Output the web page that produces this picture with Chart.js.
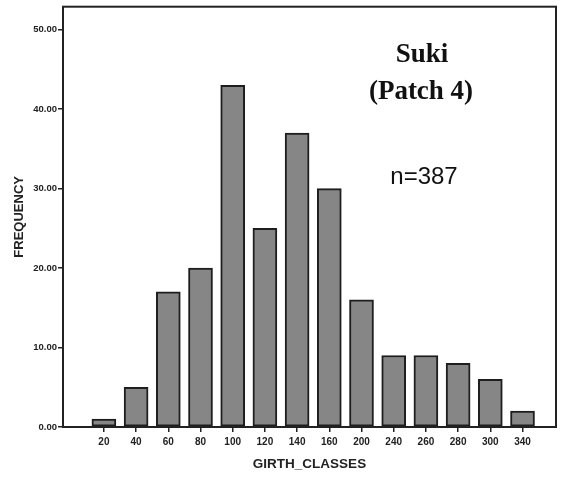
<!DOCTYPE html>
<html lang="en">
<head>
    <meta charset="UTF-8">
    <title>Suki (Patch 4)</title>
    <script src="https://cdn.jsdelivr.net/npm/chart.js"></script>
</head>
<body style="margin:0; background:#fff;">

    <canvas id="myChart" width="563" height="477"></canvas>

    <script>
        // girth classes and how many trees fall in each
        const girthClasses = ['20', '40', '60', '80', '100', '120', '140', '160', '200', '240', '260', '280', '300', '340'];
        const frequency = [1, 5, 17, 20, 43, 25, 37, 30, 16, 9, 9, 8, 6, 2];
        const yTicks = [0, 10, 20, 30, 40, 50];

        // box round the plot + the text in the corner
        const framePlugin = {
            id: 'frame',
            afterDraw(chart) {
                const { ctx, chartArea: a } = chart;
                ctx.save();
                ctx.strokeStyle = '#222';
                ctx.lineWidth = 2;
                ctx.strokeRect(a.left, a.top, a.right - a.left, a.bottom - a.top);

                ctx.fillStyle = '#111';
                ctx.textAlign = 'center';
                ctx.textBaseline = 'alphabetic';
                ctx.font = 'bold 27px "Liberation Serif", serif';
                ctx.fillText('Suki', 422, 62);
                ctx.fillText('(Patch 4)', 421, 99);
                ctx.font = '24px "Liberation Sans", sans-serif';
                ctx.fillText('n=387', 424, 184);
                ctx.restore();
            }
        };

        const ctx = document.getElementById('myChart');

        new Chart(ctx, {
            type: 'bar',
            data: {
                datasets: [{
                    data: frequency.map((v, i) => ({ x: i, y: v })),
                    backgroundColor: '#868686',
                    borderColor: '#1e1e1e',
                    borderWidth: 2,
                    borderSkipped: false,
                    barThickness: 24
                }]
            },
            options: {
                responsive: false,
                animation: false,
                layout: { padding: { top: 6, right: 7, left: 0, bottom: 0 } },
                plugins: {
                    legend: { display: false },
                    tooltip: { enabled: false }
                },
                scales: {
                    x: {
                        type: 'linear',
                        min: -1.27,
                        max: 14.04,
                        offset: false,
                        afterBuildTicks: s => { s.ticks = girthClasses.map((_, i) => ({ value: i })); },
                        afterFit: s => { s.height = 50; },
                        grid: { offset: false, drawOnChartArea: false, tickLength: 5, color: '#222', lineWidth: 1.5 },
                        border: { color: '#222', width: 2 },
                        ticks: {
                            autoSkip: false,
                            maxRotation: 0,
                            padding: 4,
                            color: '#222',
                            font: { family: '"Liberation Sans", Arial', size: 10, weight: 'bold' },
                            callback: v => girthClasses[v]
                        },
                        title: {
                            display: true,
                            text: 'GIRTH_CLASSES',
                            color: '#222',
                            font: { family: '"Liberation Sans", Arial', size: 13.5, weight: 'bold' },
                            padding: { top: 5, bottom: 5 }
                        }
                    },
                    y: {
                        min: 0,
                        max: 52.9,
                        afterBuildTicks: s => { s.ticks = yTicks.map(v => ({ value: v })); },
                        afterFit: s => { s.width = 63; },
                        grid: { drawOnChartArea: false, tickLength: 5, color: '#222', lineWidth: 1.5 },
                        border: { color: '#222', width: 2 },
                        ticks: {
                            padding: 1,
                            color: '#222',
                            font: { family: '"Liberation Sans", Arial', size: 9.5, weight: 'bold' },
                            callback: v => v.toFixed(2)
                        },
                        title: {
                            display: true,
                            text: 'FREQUENCY',
                            color: '#222',
                            font: { family: '"Liberation Sans", Arial', size: 13, weight: 'bold' },
                            padding: { top: 12, bottom: 12 }
                        }
                    }
                }
            },
            plugins: [framePlugin]
        });
    </script>

</body>
</html>
